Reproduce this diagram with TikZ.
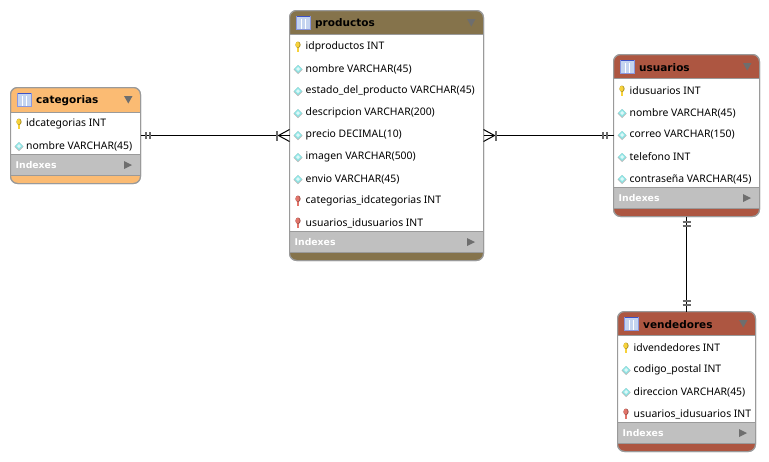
\documentclass[tikz,border=0pt]{standalone}
\usepackage{fontspec}
\setmainfont{Noto Sans}
\newfontfamily\boldface{DejaVu Sans Bold}
\definecolor{bordergray}{HTML}{9A9A9A}
\definecolor{idxgray}{HTML}{C0C0C0}
\definecolor{orangehd}{HTML}{FBBB73}
\definecolor{brownhd}{HTML}{85734B}
\definecolor{redhd}{HTML}{AD5641}
\definecolor{keyyel}{HTML}{F7D23A}
\definecolor{keyred}{HTML}{E2746A}
\definecolor{diamcy}{HTML}{8FE6E6}
\definecolor{arrowgray}{HTML}{6E6E6E}
\definecolor{barcol}{HTML}{6A6A6A}
\definecolor{iconblue}{HTML}{3C52C8}
\definecolor{iconfill}{HTML}{C4D4F0}
\tikzset{
  tablebox/.style={draw=bordergray,line width=1pt,rounded corners=7pt,inner sep=0pt,outer sep=0pt},
  rowtext/.style={anchor=west,inner sep=0pt,font=\fontsize{10.4}{12}\selectfont,text=black},
  headtext/.style={anchor=west,inner sep=0pt,font=\fontsize{10.5}{12}\selectfont\boldface,text=black},
  idxtext/.style={anchor=west,inner sep=0pt,font=\fontsize{9.3}{11}\selectfont\boldface,text=white},
  conn/.style={line width=1pt,draw=black},
  bar/.style={line width=2pt,draw=barcol},
}
\newcommand{\keyicon}[3]{% x y colour
  \fill[#3!70!black] (#1-0.9,#2) rectangle (#1+1.3,#2+5);
  \fill[#3] (#1-0.9,#2) rectangle (#1+0.5,#2+5);
  \fill[#3!70!black] (#1,#2-2.2) ellipse (2.6 and 3.2);
  \fill[#3] (#1-0.4,#2-2.4) ellipse (2 and 2.7);
}
\newcommand{\diamicon}[2]{%
  \fill[black!30] (#1-4.5,#2+0.5) -- (#1,#2-4) -- (#1+4.5,#2+0.5) -- (#1,#2+5) -- cycle;
  \fill[diamcy] (#1-4,#2) -- (#1,#2-4) -- (#1+4,#2) -- (#1,#2+4) -- cycle;
  \fill[white!70!diamcy] (#1-2,#2) -- (#1,#2-2) -- (#1+2,#2) -- (#1,#2+2) -- cycle;
}
\newcommand{\rowicon}[3]{%
  \ifnum#1=1 \keyicon{#2}{#3}{keyyel}\fi
  \ifnum#1=2 \diamicon{#2}{#3}\fi
  \ifnum#1=3 \keyicon{#2}{#3}{keyred}\fi
}
% name, x1, y1, x2, y2, colour, title, header bottom, index top
\newcommand{\tbl}[9]{%
  \node[tablebox,fill=#6,minimum width=#4pt-#2pt,minimum height=#5pt-#3pt] (#1) at ({(#2+#4)/2},{(#3+#5)/2}) {};
  \fill[white] (#2,#8) rectangle (#4,#9);
  \fill[idxgray] (#2,#9) rectangle (#4,#9+21);
  \draw[bordergray,line width=1pt] (#2,#8) -- (#4,#8) (#2,#9) -- (#4,#9) (#2,#9+21) -- (#4,#9+21);
  \node[tablebox,minimum width=#4pt-#2pt,minimum height=#5pt-#3pt] (#1-frame) at ({(#2+#4)/2},{(#3+#5)/2}) {};
  \fill[iconfill] (#2+7,#3+5.5) rectangle (#2+20.5,#3+19);
  \draw[white,line width=0.8pt] (#2+11.5,#3+8) -- (#2+11.5,#3+18) (#2+16,#3+8) -- (#2+16,#3+18);
  \draw[iconblue!60,line width=1pt] (#2+7,#3+5.5) rectangle (#2+20.5,#3+19);
  \draw[iconblue,line width=1.2pt] (#2+7,#3+6) -- (#2+20.5,#3+6);
  \node[headtext] (#1-title) at (#2+25.5,#3+13.5) {#7};
  \node[idxtext] (#1-idx) at (#2+5,#9+11) {Indexes};
  \fill[arrowgray] (#4-16.5,#9+7) -- (#4-8.5,#9+11) -- (#4-16.5,#9+15) -- cycle;
  \fill[arrowgray] (#4-16.5,#3+8.5) -- (#4-8,#3+8.5) -- (#4-12.2,#3+16) -- cycle;
}
\begin{document}
\begin{tikzpicture}[x=1pt,y=-1pt]
\useasboundingbox (0,0) rectangle (769,461);
\fill[white] (0,0) rectangle (769,461);

\tbl{categorias}{10.5}{87.5}{140.5}{183.5}{orangehd}{categorias}{112}{154}
\foreach \i/\y/\k/\t in {1/124/1/idcategorias INT,2/146/2/nombre VARCHAR(45)}{
  \rowicon{\k}{19}{\y}
  \node[rowtext] (categorias-\i) at (26,\y) {\t};
}

\tbl{productos}{289.5}{10.5}{483.5}{260.5}{brownhd}{productos}{34}{231}
\foreach \i/\y/\k/\t in {1/47/1/idproductos INT,2/69/2/nombre VARCHAR(45),3/91/2/estado\_del\_producto VARCHAR(45),4/113/2/descripcion VARCHAR(200),5/135/2/precio DECIMAL(10),6/157/2/imagen VARCHAR(500),7/179/2/envio VARCHAR(45),8/201/3/categorias\_idcategorias INT,9/223/3/usuarios\_idusuarios INT}{
  \rowicon{\k}{298}{\y}
  \node[rowtext] (productos-\i) at (305.5,\y) {\t};
}

\tbl{usuarios}{613.5}{54.5}{759.5}{216.5}{redhd}{usuarios}{78}{187}
\foreach \i/\y/\k/\t in {1/91/1/idusuarios INT,2/113/2/nombre VARCHAR(45),3/135/2/correo VARCHAR(150),4/157/2/telefono INT,5/179/2/contraseña VARCHAR(45)}{
  \rowicon{\k}{622}{\y}
  \node[rowtext] (usuarios-\i) at (629.5,\y) {\t};
}

\tbl{vendedores}{617.5}{311.5}{755.5}{451.5}{redhd}{vendedores}{335}{422}
\foreach \i/\y/\k/\t in {1/348/1/idvendedores INT,2/370/2/codigo\_postal INT,3/392/2/direccion VARCHAR(45),4/414/3/usuarios\_idusuarios INT}{
  \rowicon{\k}{626}{\y}
  \node[rowtext] (vendedores-\i) at (633.5,\y) {\t};
}

% connectors
\draw[conn] (categorias.east) -- (productos.west);
\draw[conn] (productos.east) -- (usuarios.west);
\draw[conn] (usuarios.south) -- (vendedores.north);

% categorias end: two bars
\draw[bar] ([xshift=5.5pt,yshift=-3.5pt]categorias.east) -- ([xshift=5.5pt,yshift=3.5pt]categorias.east);
\draw[bar] ([xshift=9.5pt,yshift=-3.5pt]categorias.east) -- ([xshift=9.5pt,yshift=3.5pt]categorias.east);
% productos west crow foot
\draw[bar] ([xshift=-12.5pt,yshift=-5pt]productos.west) -- ([xshift=-12.5pt,yshift=5pt]productos.west);
\draw[conn] ([xshift=-11pt]productos.west) -- ([yshift=6pt]productos.west);
\draw[conn] ([xshift=-11pt]productos.west) -- ([yshift=-6pt]productos.west);
% productos east crow foot
\draw[bar] ([xshift=12.5pt,yshift=-5pt]productos.east) -- ([xshift=12.5pt,yshift=5pt]productos.east);
\draw[conn] ([xshift=11pt]productos.east) -- ([yshift=6pt]productos.east);
\draw[conn] ([xshift=11pt]productos.east) -- ([yshift=-6pt]productos.east);
% usuarios west
\draw[bar] ([xshift=-6.5pt,yshift=-3.5pt]usuarios.west) -- ([xshift=-6.5pt,yshift=3.5pt]usuarios.west);
\draw[bar] ([xshift=-10.5pt,yshift=-3.5pt]usuarios.west) -- ([xshift=-10.5pt,yshift=3.5pt]usuarios.west);
% vertical
\draw[bar] ([xshift=-4pt,yshift=-5.5pt]usuarios.south) -- ([xshift=4pt,yshift=-5.5pt]usuarios.south);
\draw[bar] ([xshift=-4pt,yshift=-9.5pt]usuarios.south) -- ([xshift=4pt,yshift=-9.5pt]usuarios.south);
\draw[bar] ([xshift=-4pt,yshift=6.5pt]vendedores.north) -- ([xshift=4pt,yshift=6.5pt]vendedores.north);
\draw[bar] ([xshift=-4pt,yshift=10.5pt]vendedores.north) -- ([xshift=4pt,yshift=10.5pt]vendedores.north);
\end{tikzpicture}
\end{document}
